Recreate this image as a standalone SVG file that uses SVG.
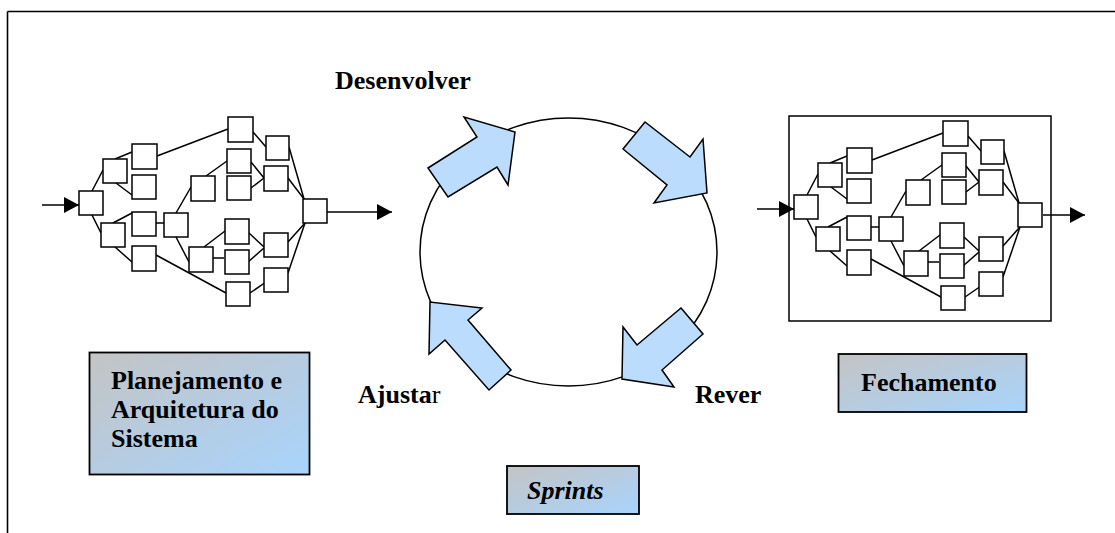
<svg xmlns="http://www.w3.org/2000/svg" xmlns:xlink="http://www.w3.org/1999/xlink" width="1115" height="533" viewBox="0 0 1115 533">
<style>
.box{fill:#fff;stroke:#000;stroke-width:1.5}
.edge{stroke:#000;stroke-width:1.5;fill:none}
.flow{stroke:#000;stroke-width:1.5;fill:none;marker-end:url(#ah)}
.barrow{fill:#bbdcfd;stroke:#000;stroke-width:1.5;stroke-linejoin:miter}
.lbl{fill:url(#grad);stroke:#000;stroke-width:1.8}
.t{font-family:"Liberation Serif","Times New Roman",serif;font-weight:bold;font-size:26px;fill:#000}
</style>
<defs>
<linearGradient id="grad" x1="0" y1="0" x2="1" y2="1">
<stop offset="0" stop-color="#c4c4c4"/>
<stop offset="1" stop-color="#a8d4fd"/>
</linearGradient>
<marker id="ah" viewBox="0 0 15 16" refX="15" refY="8" markerWidth="15" markerHeight="16" markerUnits="userSpaceOnUse" orient="auto">
<path d="M0,0 L15,8 L0,16 z" fill="#000"/>
</marker>
<g id="net">
<g class="connectors">
<line class="flow" x1="42" y1="205" x2="79" y2="205"/>
<line class="edge" x1="92" y1="191" x2="103" y2="170"/>
<line class="edge" x1="92" y1="215" x2="101" y2="233"/>
<line class="edge" x1="115" y1="159" x2="132" y2="152"/>
<line class="edge" x1="116" y1="183" x2="132" y2="195"/>
<line class="edge" x1="113" y1="223" x2="132" y2="213"/>
<line class="edge" x1="115" y1="247" x2="132" y2="262"/>
<line class="edge" x1="157" y1="156" x2="228" y2="129"/>
<line class="edge" x1="156" y1="223" x2="164" y2="223"/>
<line class="edge" x1="156" y1="255" x2="226" y2="293"/>
<line class="edge" x1="176" y1="213" x2="191" y2="187"/>
<line class="edge" x1="176" y1="237" x2="189" y2="262"/>
<line class="edge" x1="206" y1="176" x2="227" y2="161"/>
<line class="edge" x1="204" y1="247" x2="225" y2="231"/>
<line class="edge" x1="213" y1="258" x2="224" y2="258"/>
<line class="edge" x1="253" y1="132" x2="266" y2="147"/>
<line class="edge" x1="251" y1="162" x2="264" y2="178"/>
<line class="edge" x1="251" y1="188" x2="264" y2="178"/>
<line class="edge" x1="249" y1="233" x2="264" y2="247"/>
<line class="edge" x1="248" y1="262" x2="264" y2="248"/>
<line class="edge" x1="250" y1="293" x2="266" y2="282"/>
<line class="edge" x1="289" y1="147" x2="304" y2="199"/>
<line class="edge" x1="288" y1="178" x2="304" y2="199"/>
<line class="edge" x1="288" y1="242" x2="305" y2="223"/>
<line class="edge" x1="288" y1="273" x2="305" y2="223"/>
</g>
<rect class="box" x="79" y="191" width="24" height="24"/>
<rect class="box" x="103" y="159" width="24" height="24"/>
<rect class="box" x="101" y="223" width="24" height="24"/>
<rect class="box" x="132" y="144" width="25" height="25"/>
<rect class="box" x="132" y="175" width="24" height="24"/>
<rect class="box" x="132" y="212" width="24" height="24"/>
<rect class="box" x="132" y="246" width="24" height="25"/>
<rect class="box" x="164" y="213" width="24" height="24"/>
<rect class="box" x="191" y="176" width="24" height="25"/>
<rect class="box" x="189" y="247" width="24" height="25"/>
<rect class="box" x="228" y="117" width="25" height="25"/>
<rect class="box" x="227" y="149" width="24" height="24"/>
<rect class="box" x="227" y="176" width="24" height="24"/>
<rect class="box" x="225" y="219" width="24" height="25"/>
<rect class="box" x="225" y="250" width="24" height="24"/>
<rect class="box" x="226" y="282" width="24" height="24"/>
<rect class="box" x="266" y="136" width="23" height="24"/>
<rect class="box" x="264" y="166" width="24" height="25"/>
<rect class="box" x="264" y="233" width="24" height="24"/>
<rect class="box" x="264" y="268" width="24" height="24"/>
<rect class="box" x="303" y="199" width="24" height="24"/>
</g>
</defs>

<g id="frame">
<line x1="7.5" y1="11.5" x2="1115" y2="11.5" stroke="#000" stroke-width="1.6"/>
<line x1="7.5" y1="11.5" x2="7.5" y2="533" stroke="#000" stroke-width="1.6"/>
</g>

<g id="planning-network">
<use xlink:href="#net"/>
</g>

<g id="closing-network">
<rect x="789" y="116" width="262" height="205" fill="none" stroke="#000" stroke-width="1.5"/>
<use xlink:href="#net" transform="translate(715,4)"/>
</g>

<g id="connectors">
<line class="flow" x1="327" y1="212" x2="392" y2="212"/>
<line class="flow" x1="1043" y1="215" x2="1085" y2="215"/>
</g>

<g id="sprint-cycle">
<ellipse cx="568.5" cy="252" rx="148.5" ry="134" fill="#fff" stroke="#000" stroke-width="1.5"/>
<polygon class="barrow" points="428,168 477,137 464,117 515,132 508,185 497,167 448,197"/>
<polygon class="barrow" points="623,149 645,122 690,157 703,139 707,193 654,203 667,185"/>
<polygon class="barrow" points="681,308 703,334 662,370 674,387 622,379 623,327 637,345"/>
<polygon class="barrow" points="511,370 489,390 445,340 429,354 430,302 482,308 468,320"/>
</g>

<g id="label-desenvolver"><text class="t" x="335" y="89">Desenvolver</text></g>
<g id="label-rever"><text class="t" x="695" y="403">Rever</text></g>
<g id="label-ajustar"><text class="t" x="358" y="403">Ajusta<tspan font-weight="normal">r</tspan></text></g>

<g id="planning-box">
<rect class="lbl" x="89.5" y="352.5" width="220" height="122"/>
<text class="t" x="111" y="389">Planejamento e</text>
<text class="t" x="111" y="418">Arquitetura do</text>
<text class="t" x="111" y="447">Sistema</text>
</g>

<g id="closing-box">
<rect class="lbl" x="838.5" y="354" width="188" height="58"/>
<text class="t" x="861" y="391">Fechamento</text>
</g>

<g id="sprints-box">
<rect class="lbl" x="507" y="466" width="132" height="48"/>
<text class="t" x="527" y="499" font-style="italic">Sprints</text>
</g>
</svg>
